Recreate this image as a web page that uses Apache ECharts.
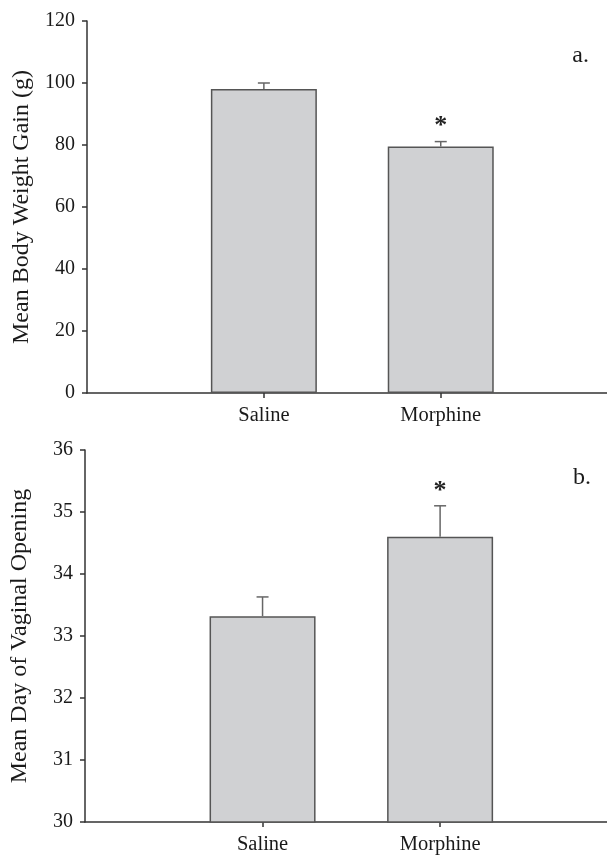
<!DOCTYPE html>
<html><head><meta charset="utf-8">
<script src="https://cdn.jsdelivr.net/npm/echarts@6/dist/echarts.min.js"></script>
<style>html,body{margin:0;padding:0;background:#fff}#c{width:607px;height:855px}</style>
</head><body><div id="c"></div>
<script>
// ---- data ----
const groups = ['Saline', 'Morphine'];
const weightGain = [98.1, 79.5];
const weightGainErr = [1.9, 1.6];
const weightGainSig = [0, 1];
const vaginalDay = [33.32, 34.6];
const vaginalDayErr = [0.31, 0.5];
const vaginalDaySig = [0, 1];
const yTicksA = [0, 20, 40, 60, 80, 100, 120];
const yTicksB = [30, 31, 32, 33, 34, 35, 36];
const titleA = 'Mean Body Weight Gain (g)';
const titleB = 'Mean Day of Vaginal Opening';
const panelA = 'a.';
const panelB = 'b.';

// ---- build ----
const FONT = '"Liberation Serif", "Times New Roman", serif';
const groupPos = groups.map((g, i) => i + 1);           // group slots on the x scale
const barData = vals => vals.map((v, i) => [groupPos[i], v]);
const errData = (vals, errs, sig) => vals.map((v, i) => [groupPos[i], v, errs[i], sig[i]]);

function errRender(params, api) {
  const i = api.value(0), v = api.value(1), e = api.value(2), s = api.value(3);
  const base = api.coord([i, v]);
  const top = api.coord([i, v + e]);
  const children = [
    {type: 'line', shape: {x1: base[0], y1: base[1], x2: base[0], y2: top[1]}, style: {stroke: '#666', lineWidth: 1.5}},
    {type: 'line', shape: {x1: base[0] - 6, y1: top[1], x2: base[0] + 6, y2: top[1]}, style: {stroke: '#666', lineWidth: 1.5}}
  ];
  if (s) {
    children.push({type: 'text', x: base[0], y: top[1] - 15, style: {text: '*', font: 'bold 26px ' + FONT, fill: '#222', align: 'center', verticalAlign: 'middle'}});
  }
  return {type: 'group', children: children};
}

function xAxis(gridIndex) {
  return {
    type: 'value', gridIndex: gridIndex, min: 0, max: 2.94, interval: 1,
    axisLine: {show: true, lineStyle: {color: '#333', width: 1.5}},
    axisTick: {show: true, customValues: groupPos, length: 5, inside: false, lineStyle: {color: '#333', width: 1.5}},
    axisLabel: {customValues: groupPos, color: '#1a1a1a', fontFamily: FONT, fontSize: 20.5, margin: 12,
      formatter: (v) => groups[Math.round(v) - 1] || ''},
    splitLine: {show: false}
  };
}
function yAxis(gridIndex, ticks, name) {
  return {
    type: 'value', gridIndex: gridIndex, min: ticks[0], max: ticks[ticks.length - 1], interval: ticks[1] - ticks[0],
    name: name, nameLocation: 'middle', nameGap: 53, nameRotate: 90,
    nameTextStyle: {color: '#1a1a1a', fontFamily: FONT, fontSize: 24},
    axisLine: {show: true, lineStyle: {color: '#333', width: 1.5}},
    axisTick: {show: true, length: 5, lineStyle: {color: '#333', width: 1.5}},
    axisLabel: {color: '#1a1a1a', fontFamily: FONT, fontSize: 20, margin: 12},
    splitLine: {show: false}
  };
}
const barStyle = {color: '#d0d1d3', borderColor: '#555', borderWidth: 1.5};

const chart = echarts.init(document.getElementById('c'), null, {renderer: 'canvas'});
chart.setOption({
  animation: false,
  backgroundColor: '#fff',
  grid: [
    {left: 87, top: 21, height: 372, right: 0},
    {left: 85, top: 450, height: 372, right: 0}
  ],
  xAxis: [xAxis(0), xAxis(1)],
  yAxis: [yAxis(0, yTicksA, titleA), yAxis(1, yTicksB, titleB)],
  series: [
    {type: 'bar', xAxisIndex: 0, yAxisIndex: 0, data: barData(weightGain), barWidth: 106, itemStyle: barStyle, z: 2},
    {type: 'custom', xAxisIndex: 0, yAxisIndex: 0, data: errData(weightGain, weightGainErr, weightGainSig), renderItem: errRender, z: 3},
    {type: 'bar', xAxisIndex: 1, yAxisIndex: 1, data: barData(vaginalDay), barWidth: 106, itemStyle: barStyle, z: 2},
    {type: 'custom', xAxisIndex: 1, yAxisIndex: 1, data: errData(vaginalDay, vaginalDayErr, vaginalDaySig), renderItem: errRender, z: 3}
  ],
  graphic: [
    {type: 'text', right: 18, top: 44, style: {text: panelA, font: '24px ' + FONT, fill: '#1a1a1a'}},
    {type: 'text', right: 16, top: 466, style: {text: panelB, font: '24px ' + FONT, fill: '#1a1a1a'}}
  ]
});
</script>
</body></html>
